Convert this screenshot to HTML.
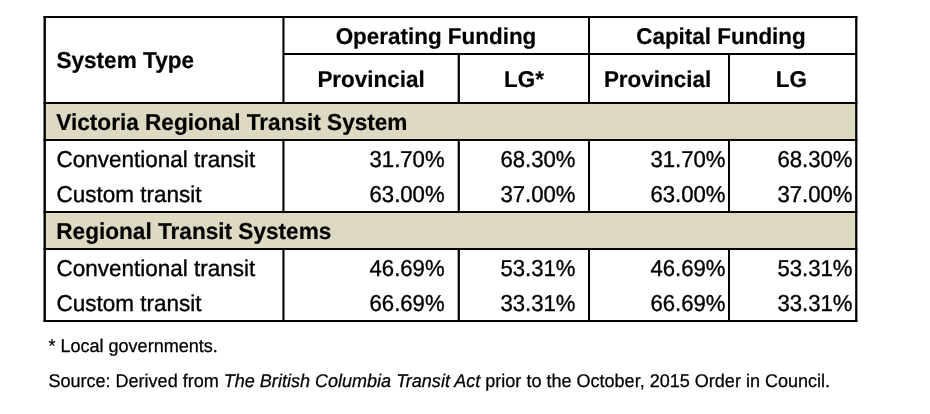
<!DOCTYPE html>
<html>
<head>
<meta charset="utf-8">
<title>Funding table</title>
<style>
html,body{margin:0;padding:0;background:#fff;}
body{width:930px;height:414px;position:relative;overflow:hidden;font-family:"Liberation Sans",sans-serif;color:#000;}
.t{position:absolute;white-space:nowrap;font-size:22.6px;line-height:26px;transform:scaleY(1.02);transform-origin:0 20.5px;-webkit-text-stroke:0.35px #000;text-rendering:geometricPrecision;}
.b{font-weight:bold;-webkit-text-stroke:0.2px #000;}
.c{text-align:center;}
.r{text-align:right;}
.g{font-size:22.5px;}
.h{font-size:22.45px;}
.n{font-size:22.15px;transform:scaleY(1.04);}
.f{font-size:18.05px;line-height:22px;transform-origin:0 17px;-webkit-text-stroke:0.25px #000;}
</style>
</head>
<body>
<svg width="930" height="414" viewBox="0 0 930 414" style="position:absolute;left:0;top:0;">
<rect x="45" y="103" width="811" height="37" fill="#ddd9c3"/>
<rect x="45" y="212" width="811" height="37" fill="#ddd9c3"/>
<g fill="#000">
<rect x="43.5" y="16" width="813.9" height="2"/>
<rect x="43.5" y="102" width="813.9" height="2"/>
<rect x="43.5" y="139" width="813.9" height="2"/>
<rect x="43.5" y="211" width="813.9" height="2"/>
<rect x="43.5" y="248" width="813.9" height="2"/>
<rect x="43.5" y="320" width="813.9" height="2"/>
<rect x="283" y="53" width="573" height="2"/>
<rect x="43.5" y="16" width="2.4" height="306"/>
<rect x="855.15" y="16" width="2.25" height="306"/>
<rect x="282.4" y="17" width="2.1" height="86"/>
<rect x="282.4" y="140" width="2.1" height="72"/>
<rect x="282.4" y="249" width="2.1" height="72"/>
<rect x="588" y="17" width="2" height="86"/>
<rect x="588" y="140" width="2" height="72"/>
<rect x="588" y="249" width="2" height="72"/>
<rect x="457.65" y="54" width="2.25" height="49"/>
<rect x="457.65" y="140" width="2.25" height="72"/>
<rect x="457.65" y="249" width="2.25" height="72"/>
<rect x="728" y="54" width="2" height="49"/>
<rect x="728" y="140" width="2" height="72"/>
<rect x="728" y="249" width="2" height="72"/>
</g></svg>
<!-- header text -->
<div class="t b" style="left:56.4px;top:48px;">System Type</div>
<div class="t b c h" style="left:284px;width:304px;top:24px;">Operating Funding</div>
<div class="t b c h" style="left:588px;width:266px;top:24px;">Capital Funding</div>
<div class="t b c h" style="left:284px;width:174px;top:67px;">Provincial</div>
<div class="t b c h" style="left:460px;width:128px;top:67px;">LG*</div>
<div class="t b c h" style="left:588px;width:139px;top:67px;">Provincial</div>
<div class="t b c h" style="left:728.8px;width:125px;top:67px;">LG</div>

<!-- section 1 -->
<div class="t b" style="left:56.3px;top:110px;">Victoria Regional Transit System</div>
<div class="t g" style="left:56.5px;top:147px;">Conventional transit</div>
<div class="t g" style="left:56.5px;top:182px;">Custom transit</div>
<div class="t r n" style="left:284px;width:160.6px;top:147px;">31.70%</div>
<div class="t r n" style="left:284px;width:160.6px;top:182px;">63.00%</div>
<div class="t r n" style="left:460px;width:115.5px;top:147px;">68.30%</div>
<div class="t r n" style="left:460px;width:115.5px;top:182px;">37.00%</div>
<div class="t r n" style="left:590px;width:135.5px;top:147px;">31.70%</div>
<div class="t r n" style="left:590px;width:135.5px;top:182px;">63.00%</div>
<div class="t r n" style="left:730px;width:122.5px;top:147px;">68.30%</div>
<div class="t r n" style="left:730px;width:122.5px;top:182px;">37.00%</div>

<!-- section 2 -->
<div class="t b" style="left:56.3px;top:219px;">Regional Transit Systems</div>
<div class="t g" style="left:56.5px;top:256px;">Conventional transit</div>
<div class="t g" style="left:56.5px;top:291px;">Custom transit</div>
<div class="t r n" style="left:284px;width:160.6px;top:256px;">46.69%</div>
<div class="t r n" style="left:284px;width:160.6px;top:291px;">66.69%</div>
<div class="t r n" style="left:460px;width:115.5px;top:256px;">53.31%</div>
<div class="t r n" style="left:460px;width:115.5px;top:291px;">33.31%</div>
<div class="t r n" style="left:590px;width:135.5px;top:256px;">46.69%</div>
<div class="t r n" style="left:590px;width:135.5px;top:291px;">66.69%</div>
<div class="t r n" style="left:730px;width:122.5px;top:256px;">53.31%</div>
<div class="t r n" style="left:730px;width:122.5px;top:291px;">33.31%</div>

<!-- footnotes -->
<div class="t f" style="left:48.4px;top:335px;">* Local governments.</div>
<div class="t f" style="left:48.4px;top:370px;">Source: Derived from <i>The British Columbia Transit Act</i> prior to the October, 2015 Order in Council.</div>
</body>
</html>
